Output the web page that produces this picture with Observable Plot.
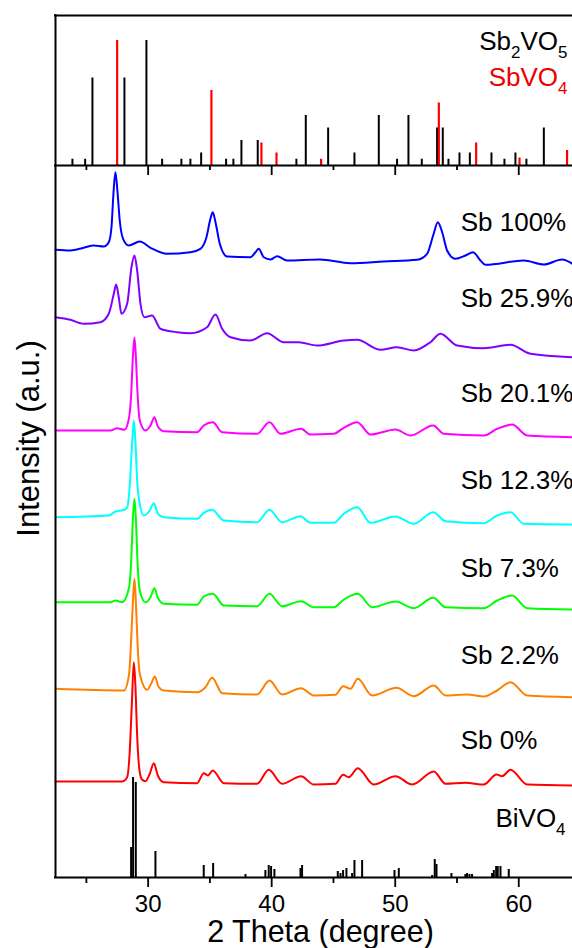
<!DOCTYPE html>
<html>
<head>
<meta charset="utf-8">
<script src="https://cdn.jsdelivr.net/npm/d3@7"></script>
<script src="https://cdn.jsdelivr.net/npm/@observablehq/plot@0.6"></script>
<style>
  html, body { margin: 0; padding: 0; background: #fff; }
  #chart { width: 572px; height: 948px; }
</style>
</head>
<body>
<div id="chart"></div>
<script>
// ---------------- DATA ----------------
const samples = ["Sb 100%", "Sb 25.9%", "Sb 20.1%", "Sb 12.3%", "Sb 7.3%", "Sb 2.2%", "Sb 0%"];

const theta100 = [22.5,23.71,24.79,25.6,26.41,26.81,27.03,27.19,27.35,27.51,27.7,27.97,28.43,29.32,30.19,31.53,33.42,34.23,34.72,35.04,35.23,35.45,35.8,36.39,38.28,38.69,38.95,39.36,39.9,40.44,41.25,43.89,46.38,49.07,51.77,52.58,53.07,53.45,53.8,54.2,54.87,55.68,56.3,56.9,57.3,60.41,62.03,63.51,64.35];
const counts100 = [20.7,20,22.7,25,24,28.3,43,76.7,98.3,80,50,31.7,25,29,22.7,16.7,18.3,21.7,33.3,51.7,58.3,48.3,26.7,14,13.3,18.3,21.7,13.3,11,14.3,10,11,7.3,9,10.7,16.7,35,48.3,38.3,20,11.7,15,18.3,10,5.7,10,6,11,6.7];

const theta259 = [22.5,23.71,24.79,26.14,26.81,27.22,27.41,27.62,27.84,28.3,28.65,28.89,29.11,29.38,29.7,30.32,30.99,32.34,33.42,34.77,35.45,35.99,36.66,38.28,39.63,40.98,42.19,43.68,45.84,46.92,48.8,50.15,51.5,52.85,53.66,55.01,57.17,59.33,60.95,64.35];
const counts259 = [43.3,40.7,36.7,38.3,46.7,66.7,76,63.3,46.7,56.7,93.3,105,90,56.7,43.3,45,31.7,28.3,27.3,33.3,46,31.7,23.3,20,27.3,18.3,18.3,15,20,20.7,10.7,13.3,10,18.3,26.7,15,12.3,15.7,6.7,3.3];

const theta201 = [22.5,26.95,27.49,28.08,28.46,28.62,28.77,28.89,29.0,29.15,29.32,29.78,30.19,30.51,30.78,31.27,33.96,34.5,35.23,35.99,38.82,39.82,40.71,42.38,43.14,45.03,45.84,46.92,48.0,50.02,51.23,53.07,53.93,57.17,58.25,59.46,60.68,64.35];
const counts201 = [10,10,12.3,10.7,23.3,45,85,103,85,45,20,10,15,23.3,14,9.3,8.3,15,18.3,8.3,6.7,18.3,6.7,11.7,6,6.7,12.7,18.3,6,11,5,15,6.7,5,11.7,16,5,3.3];

const theta123 = [22.5,26.81,27.35,28.08,28.3,28.5,28.72,28.84,28.96,29.12,29.3,29.65,30.13,30.46,30.78,31.27,33.96,34.5,35.18,36.12,38.82,39.82,40.84,42.33,43.14,45.03,45.84,46.92,48.0,50.02,51.5,53.07,54.07,57.17,58.25,59.33,60.41,64.35];
const counts123 = [10.3,12,16,17.7,20,40,88,107,88,45,25,12,17,24.3,13.7,10.3,8.7,14.7,17.7,7,5.3,17.7,5.3,11.3,4.7,4.7,13.7,20.3,4.7,11,3.7,15.3,6.3,4.3,12,15.3,3.7,3];

const theta073 = [22.5,26.95,27.35,27.89,28.46,28.62,28.77,28.89,29.0,29.15,29.32,29.78,30.19,30.51,30.78,31.27,33.96,34.5,35.23,36.12,38.82,39.82,40.84,42.38,43.41,45.03,45.84,46.97,48.13,50.02,51.5,53.07,54.07,57.17,58.25,59.46,60.68,64.35];
const counts073 = [10.3,10.3,12,10.3,25.3,50,95,113.7,95,48,22,10.3,15.3,24.3,14.7,8.7,7.7,16,18.7,7,6.3,18.7,6.3,11.3,5.3,5.3,13,18.7,5.3,11,4.3,14.7,5.3,4.3,12,17,4.3,3];

const theta022 = [22.5,28.03,28.46,28.62,28.77,28.89,29.0,29.15,29.32,29.92,30.24,30.54,30.83,31.27,33.96,34.64,35.18,35.99,38.82,39.82,40.84,42.38,43.41,45.16,45.78,46.38,46.97,48.13,50.1,51.5,53.12,54.07,55.82,57.17,58.25,59.33,60.68,64.35];
const counts022 = [11.7,10,26.7,60,100,121.7,100,55,26.7,10.7,16.7,24,14,10,8.3,13.3,22.7,7.3,6,20,6,12.3,5,5.7,14.3,11.7,21.7,5,12.7,4.3,15,5,6,4,10,18.3,5,3.3];

const theta000 = [22.5,27.89,28.3,28.5,28.68,28.84,28.96,29.12,29.3,29.5,29.78,30.13,30.46,30.78,31.27,33.96,34.5,34.83,35.23,36.12,38.82,39.76,40.84,42.38,43.41,45.16,45.78,46.24,46.97,48.26,50.02,51.37,53.12,54.07,55.68,57.17,58.2,58.65,59.33,60.68,64.35];
const counts000 = [7,7,11.3,35,85,126.3,105,50,18,9,7.3,14.7,25.3,13,6.3,5.3,15.3,13,18,5.3,4.7,18.7,4.7,12.3,4,4.7,13.7,11.3,20.3,4,12.3,4,17,4.7,5.7,4,14,12.3,18.7,4,3];

// Reference patterns: 2-theta positions and relative intensities (%)
const sb2vo5Theta = [23.87,24.9,25.49,28.08,29.86,31.13,32.69,33.42,34.29,36.31,36.9,37.55,38.87,42.0,42.76,44.57,46.7,48.67,50.15,51.07,52.15,53.39,53.85,54.31,55.2,56.04,57.79,58.84,59.73,60.62,62.03];
const sb2vo5Rel   = [5,5,70,70,100,5,5,5,10,5,5,20,20,5,40,30,10,40,5,40,5,30,30,5,10,10,10,5,10,5,30];

const sbvo4Theta = [27.49,35.12,39.17,40.39,44.0,53.53,56.55,60.06,63.91];
const sbvo4Rel   = [100,60,18,10,5,50,18,6,12];

const bivo4Theta = [28.62,28.78,29.0,30.59,34.5,35.26,37.88,39.49,39.76,39.95,40.22,42.33,42.46,45.35,45.57,45.78,46.05,46.51,46.7,47.32,49.94,50.29,52.99,53.2,53.34,54.55,55.68,55.82,56.01,56.22,57.84,57.98,58.17,58.3,58.52,59.19];
const bivo4Rel   = [30,100,95,26,12,14,3,7,12,11,8,9,12,6,4,7,9,4,17,17,7,9,2,18,13,4,3,4,3,3,4,7,11,11,11,8];

const majorTicks = [30, 40, 50, 60];
const minorTicks = [25, 35, 45, 55];

// ---------------- LAYOUT / STYLE ----------------
const thetaSets = [theta100, theta259, theta201, theta123, theta073, theta022, theta000];
const countSets = [counts100, counts259, counts201, counts123, counts073, counts022, counts000];
const colors = ["#0000ff", "#8000ff", "#ff00ff", "#00ffff", "#00ff00", "#ff8000", "#ff0000"];
const stackOffset = [607, 517, 437, 350, 265, 177, 89];   // vertical stacking (a.u.)
const labelLift = [48, 62, 47, 47, 44, 45, 48];
const refBase = 712;        // baseline of the reference-pattern panel
const refScale = 1.25;      // a.u. per % in the reference panel
const X0 = 22.5, X1 = 64.35;
const FONT = "'Liberation Sans', Arial, Helvetica, sans-serif";

const traceMarks = samples.map((s, i) => {
  const rows = [];
  const n = Math.min(thetaSets[i].length, countSets[i].length);
  for (let j = 0; j < n; j++) rows.push({theta: thetaSets[i][j], y: stackOffset[i] + countSets[i][j]});
  return Plot.line(rows, {x: "theta", y: "y", stroke: colors[i], strokeWidth: 2, curve: "monotone-x"});
});

const sb2vo5Rows = sb2vo5Theta.map((t, i) => ({theta: t, rel: sb2vo5Rel[i]}));
const sbvo4Rows = sbvo4Theta.map((t, i) => ({theta: t, rel: sbvo4Rel[i]}));
const bivo4Rows = bivo4Theta.map((t, i) => ({theta: t, rel: bivo4Rel[i]}));

const svg = Plot.plot({
  width: 572,
  height: 948,
  marginLeft: 55,
  marginRight: 0,
  marginTop: 15,
  marginBottom: 71,
  x: {domain: [X0, X1]},
  y: {domain: [0, 862], axis: null},
  style: {fontFamily: FONT, background: "#fff", color: "#000", overflow: "visible"},
  marks: [
    // reference sticks
    Plot.ruleX(sb2vo5Rows, {x: "theta", y1: refBase, y2: d => refBase + refScale * d.rel, stroke: "#000", strokeWidth: 2}),
    Plot.ruleX(sbvo4Rows, {x: "theta", y1: refBase, y2: d => refBase + refScale * d.rel, stroke: "#ff0000", strokeWidth: 2.2}),
    Plot.ruleX(bivo4Rows, {x: "theta", y1: 0, y2: "rel", stroke: "#000", strokeWidth: 2}),
    // traces
    ...traceMarks,
    // frame lines
    Plot.ruleY([0, refBase, 862], {stroke: "#000", strokeWidth: 2, strokeLinecap: "square"}),
    Plot.ruleX([X0], {y1: 0, y2: 862, stroke: "#000", strokeWidth: 2, strokeLinecap: "square"}),
    // ticks
    Plot.ruleX(majorTicks, {y1: 0, y2: -10, stroke: "#000", strokeWidth: 1.8}),
    Plot.ruleX(minorTicks, {y1: 0, y2: -6, stroke: "#000", strokeWidth: 1.8}),
    Plot.ruleX(majorTicks, {y1: refBase, y2: refBase - 10, stroke: "#000", strokeWidth: 1.8}),
    Plot.ruleX(minorTicks, {y1: refBase, y2: refBase - 5, stroke: "#000", strokeWidth: 1.8}),
    Plot.axisX({ticks: majorTicks, tickSize: 0, tickPadding: 17, fontSize: 24, label: null, tickFormat: d => String(d)}),
    // titles
    Plot.text(["2 Theta (degree)"], {x: 43.95, y: -55, text: d => d, fontSize: 30.5, textAnchor: "middle", lineAnchor: "middle", fill: "#000"}),
    Plot.text(["Intensity (a.u.)"], {x: 20.4, y: 439, text: d => d, fontSize: 31, rotate: -90, textAnchor: "middle", lineAnchor: "middle", fill: "#000"}),
    // sample labels
    Plot.text(samples, {x: 55.3, y: (d, i) => stackOffset[i] + labelLift[i], text: d => d, fontSize: 26, textAnchor: "start", lineAnchor: "middle", fill: "#000"}),
    // phase labels
    Plot.text(["Sb2VO5"], {x: 63.95, y: 836, text: d => d, fontSize: 26, textAnchor: "end", lineAnchor: "middle", fill: "#000"}),
    Plot.text(["SbVO4"], {x: 63.95, y: 800, text: d => d, fontSize: 26, textAnchor: "end", lineAnchor: "middle", fill: "#ee0000"}),
    Plot.text(["BiVO4"], {x: 63.79, y: 59, text: d => d, fontSize: 26, textAnchor: "end", lineAnchor: "middle", fill: "#000"})
  ]
});

// chemical subscripts
const formulaParts = {
  "Sb2VO5": [["Sb", 0], ["2", 1], ["VO", 0], ["5", 1]],
  "SbVO4": [["SbVO", 0], ["4", 1]],
  "BiVO4": [["BiVO", 0], ["4", 1]]
};
d3.select(svg).selectAll("text").each(function () {
  const parts = formulaParts[this.textContent];
  if (!parts) return;
  const t = d3.select(this);
  t.text(null);
  let shifted = false;
  for (const [str, sub] of parts) {
    const sp = t.append("tspan").text(str);
    if (sub && !shifted) { sp.attr("dy", 8).attr("font-size", 17); shifted = true; }
    else if (sub) { sp.attr("font-size", 17); }
    else if (shifted) { sp.attr("dy", -8); shifted = false; }
  }
});

document.getElementById("chart").appendChild(svg);
</script>
</body>
</html>
